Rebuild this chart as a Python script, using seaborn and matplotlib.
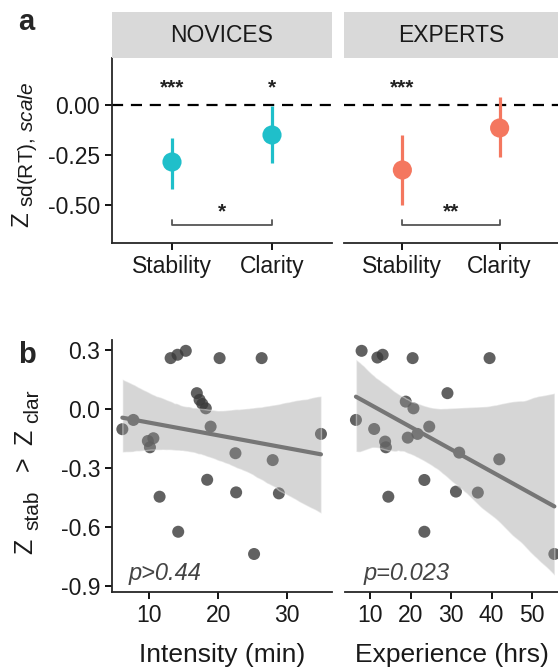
import numpy as np
import pandas as pd
import seaborn as sns
import matplotlib.pyplot as plt
from matplotlib.collections import PolyCollection

# ---- data ----
conditions = ['Stability', 'Clarity']
groups = ['NOVICES', 'EXPERTS']
group_colors = ['#1fbfca', '#f4775f']

novice_mean = [-0.285, -0.150]
novice_low = [-0.420, -0.290]
novice_high = [-0.165, -0.005]
expert_mean = [-0.325, -0.115]
expert_low = [-0.500, -0.260]
expert_high = [-0.150, 0.040]

novice_stars = ['***', '*']
expert_stars = ['***', '']
diff_stars = ['*', '**']

intensity_min = [6.1, 7.7, 9.8, 10.1, 10.6, 13.1, 14.1, 15.3, 20.2, 26.3, 16.9, 17.3,
                 17.7, 18.2, 18.9, 22.5, 27.9, 18.4, 22.6, 28.8, 11.5, 14.2, 25.2, 34.9]
intensity_diff = [-0.103, -0.056, -0.163, -0.195, -0.149, 0.258, 0.275, 0.295, 0.258, 0.258,
                  0.080, 0.046, 0.025, 0.003, -0.090, -0.225, -0.260, -0.360, -0.424, -0.429,
                  -0.446, -0.624, -0.737, -0.127]

experience_hrs = [7.9, 11.8, 13.1, 20.5, 39.5, 29.1, 18.8, 20.7, 6.5, 11.0, 13.7, 13.9,
                  19.3, 21.7, 24.6, 32.0, 41.9, 23.4, 31.2, 36.6, 14.5, 23.4, 55.5]
experience_diff = [0.295, 0.261, 0.275, 0.258, 0.258, 0.080, 0.037, 0.003, -0.056, -0.102,
                   -0.166, -0.195, -0.146, -0.127, -0.090, -0.222, -0.256, -0.361, -0.420,
                   -0.425, -0.446, -0.624, -0.737]

top = pd.DataFrame({
    'group': np.repeat(groups, 2),
    'condition': conditions * 2,
    'mean': novice_mean + expert_mean,
    'low': novice_low + expert_low,
    'high': novice_high + expert_high,
    'stars': novice_stars + expert_stars,
})

sns.set_style('white')
plt.rcParams['font.family'] = ['Liberation Sans', 'DejaVu Sans']
plt.rcParams['axes.unicode_minus'] = False
plt.rcParams['mathtext.fontset'] = 'custom'
plt.rcParams['mathtext.rm'] = 'Liberation Sans'
plt.rcParams['mathtext.it'] = 'Liberation Sans:italic'

W, H = 558, 672
fig = plt.figure(figsize=(W / 100, H / 100), dpi=100)


def box(x0, y0, x1, y1):
    # pixel box (top-left origin) -> figure fraction rect
    return [x0 / W, 1 - y1 / H, (x1 - x0) / W, (y1 - y0) / H]


def vtext(px, py, s, size, **kw):
    # rotated label piece, anchored at its start / baseline (pixel coords)
    fig.text(px / W, 1 - py / H, s, rotation=90, rotation_mode='anchor',
             ha=kw.pop('ha', 'left'), va=kw.pop('va', 'baseline'), fontsize=size,
             color='#1a1a1a', **kw)


def style_axes(ax, show_y):
    for s in ['top', 'right']:
        ax.spines[s].set_visible(False)
    ax.spines['bottom'].set_linewidth(1.3)
    ax.spines['left'].set_linewidth(1.3)
    ax.spines['left'].set_visible(show_y)
    ax.tick_params(axis='both', length=5, width=1.3, color='black', labelsize=16.5,
                   labelcolor='#1a1a1a', direction='out', bottom=True, left=show_y)
    if not show_y:
        ax.set_yticklabels([])


# ---- panel a ----
top_boxes = [(112, 58, 332, 243), (344, 58, 558, 243)]
for i, g in enumerate(groups):
    ax = fig.add_axes(box(*top_boxes[i]))
    d = top[top['group'] == g]
    ax.axhline(0, color='black', lw=1.6, ls=(0, (5, 3.5)), zorder=1)
    ax.vlines(d['condition'], d['low'], d['high'], color=group_colors[i], lw=2.3, zorder=2)
    sns.scatterplot(data=d, x='condition', y='mean', color=group_colors[i], s=190,
                    edgecolor='none', ax=ax, zorder=3, legend=False)
    for c, st in zip(d['condition'], d['stars']):
        ax.text(c, 0.06, st, ha='center', va='baseline', fontsize=15,
                fontweight='bold', color='#222222')
    ax.plot(['Stability', 'Stability', 'Clarity', 'Clarity'], [-0.575, -0.60, -0.60, -0.575],
            color='#555555', lw=1.3)
    ax.text(0.5, -0.56, diff_stars[i], ha='center', va='baseline', fontsize=15,
            fontweight='bold', color='#222222')
    ax.set_xlim(-0.6, 1.6)
    ax.set_ylim(-0.69, 0.235)
    ax.set_yticks([0, -0.25, -0.5])
    ax.set_yticklabels(['0.00', '-0.25', '-0.50'])
    ax.set_xlabel('')
    ax.set_ylabel('')
    style_axes(ax, i == 0)
    # facet strip
    sx0, _, sx1, _ = top_boxes[i]
    strip = fig.add_axes(box(sx0, 12, sx1, 58))
    strip.set_facecolor('#d9d9d9')
    strip.set_xticks([])
    strip.set_yticks([])
    for s in strip.spines.values():
        s.set_visible(False)
    strip.text(0.5, 0.5, g, ha='center', va='center', fontsize=16.5, color='#1a1a1a',
               transform=strip.transAxes)

# y label of panel a:  Z sd(RT), scale
vtext(28, 227, 'Z', 17.5)
vtext(33, 207, r'sd(RT), $\mathit{scale}$', 15)

# ---- panel b ----
bot_specs = [
    ((112, 340, 332, 592), intensity_min, intensity_diff, (4.6, 36.5), [10, 20, 30],
     'Intensity (min)', 'p>0.44', 95),
    ((345, 340, 558, 592), experience_hrs, experience_diff, (3.8, 56.4), [10, 20, 30, 40, 50],
     'Experience (hrs)', 'p=0.023', 99),
]
for i, (bx, xs, ys, xl, xt, xlab, ptxt, ci) in enumerate(bot_specs):
    ax = fig.add_axes(box(*bx))
    sns.scatterplot(x=xs, y=ys, color='#3a3a3a', alpha=0.8, s=75, edgecolor='none',
                    ax=ax, zorder=2)
    sns.regplot(x=xs, y=ys, scatter=False, ax=ax, color='#767676', seed=3, n_boot=2000,
                ci=ci, line_kws={'lw': 3, 'zorder': 4})
    for coll in ax.collections:
        if isinstance(coll, PolyCollection):
            coll.set_facecolor('#999999')
            coll.set_alpha(0.4)
            coll.set_zorder(3)
    ax.set_xlim(*xl)
    ax.set_ylim(-0.93, 0.35)
    ax.set_xticks(xt)
    ax.set_yticks([0.3, 0.0, -0.3, -0.6, -0.9])
    ax.set_yticklabels(['0.3', '0.0', '-0.3', '-0.6', '-0.9'])
    style_axes(ax, i == 0)
    ax.set_xlabel(xlab, fontsize=19, color='#1a1a1a', labelpad=12)
    ax.text(0.075 if i == 0 else 0.085, 0.075, ptxt, style='italic', fontsize=17,
            color='#444444', ha='left', va='center', transform=ax.transAxes)

# y label of panel b:  Z stab > Z clar
vtext(32, 554, 'Z', 18)
vtext(38, 530, 'stab', 15)
vtext(24, 464, '>', 18, ha='center', va='center')
vtext(32, 445, 'Z', 18)
vtext(38, 423, 'clar', 15)

fig.text(18 / W, 1 - 22 / H, 'a', fontsize=21, fontweight='bold', va='center', ha='left')
fig.text(18 / W, 1 - 355 / H, 'b', fontsize=21, fontweight='bold', va='center', ha='left')

fig.savefig('out.png', dpi=100)
